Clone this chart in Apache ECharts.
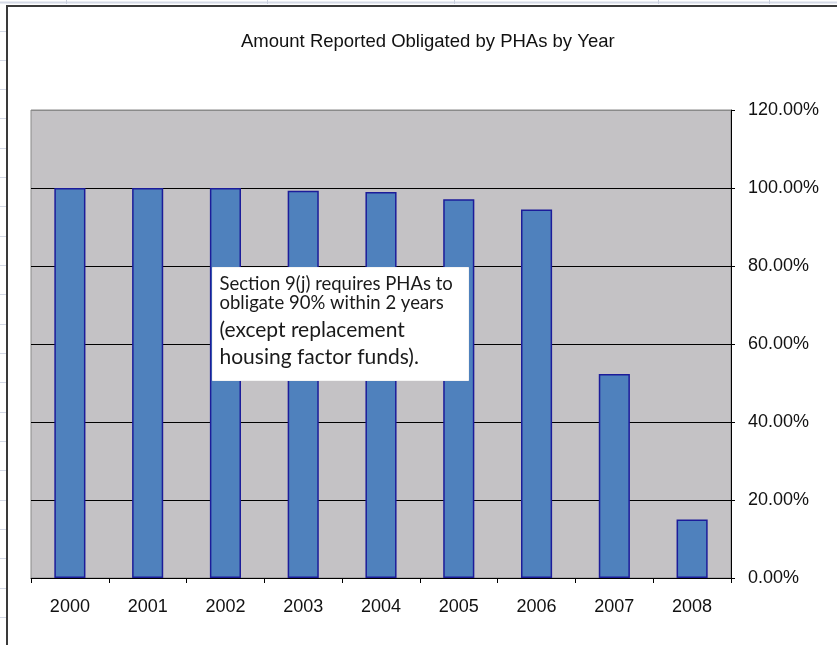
<!DOCTYPE html>
<html>
<head>
<meta charset="utf-8">
<script src="https://cdn.jsdelivr.net/npm/echarts@6/dist/echarts.min.js"></script>
<style>
  html, body { margin: 0; padding: 0; background: #ffffff; }
  #chart { width: 837px; height: 645px; }
</style>
</head>
<body>
<div id="chart"></div>
<script>
// Obligation rate by grant year
const years = ['2000', '2001', '2002', '2003', '2004', '2005', '2006', '2007', '2008'];
const obligated = [1.0, 1.0, 1.0, 0.993, 0.99, 0.971, 0.945, 0.523, 0.15];
const yTicks = { min: 0, max: 1.2, interval: 0.2 };
const noteLines = [
  'Section 9(j) requires PHAs to',
  'obligate 90% within 2 years',
  '(except replacement',
  'housing factor funds).'
];

const chart = echarts.init(document.getElementById('chart'), null, { renderer: 'canvas' });

// worksheet cell lines behind the chart frame
const sheetLines = [];
const rowColor = '#d4d9e6';
for (let y = 30.5; y < 645; y += 29.33) {
  sheetLines.push({ type: 'line', shape: { x1: 0, y1: Math.round(y) + 0.5, x2: 6, y2: Math.round(y) + 0.5 },
    style: { stroke: rowColor, lineWidth: 1 }, silent: true });
}
sheetLines.push({ type: 'line', shape: { x1: 0, y1: 2.5, x2: 837, y2: 2.5 }, style: { stroke: rowColor, lineWidth: 2 }, silent: true });
[66, 267, 454, 658, 769].forEach(function (x) {
  sheetLines.push({ type: 'line', shape: { x1: x + 0.5, y1: 0, x2: x + 0.5, y2: 4 }, style: { stroke: '#c8cedc', lineWidth: 1 }, silent: true });
});
// chart frame
sheetLines.push({ type: 'polyline', shape: { points: [[7, 645], [7, 6], [837, 6]] },
  style: { stroke: '#3a3a3a', lineWidth: 2, fill: null }, silent: true });

// annotation box drawn over the bars
const noteFont = ['18.5px Lato', '18.5px Lato', '21px Lato', '21px Lato'];
const noteY = [17, 36, 63, 90];
const note = {
  type: 'group', left: 212, top: 267,
  children: [
    { type: 'rect', z: 100, shape: { x: 0, y: 0, width: 256, height: 113 },
      style: { fill: '#ffffff', stroke: '#f4f4f4', lineWidth: 1 } }
  ].concat(noteLines.map(function (t, i) {
    return { type: 'text', z: 101, x: 7, y: noteY[i],
      style: { text: t, font: noteFont[i], fill: '#1a1a1a', textVerticalAlign: 'middle' } };
  }))
};

// grid lines: black for every tick, the top edge stays grey like the frame
const splitColors = ['#000000', '#000000', '#000000', '#000000', '#000000', '#000000', '#8a8a8a'];

const option = {
  backgroundColor: '#ffffff',
  animation: false,
  title: {
    text: 'Amount Reported Obligated by PHAs by Year',
    left: 236, top: 27,
    textStyle: { fontFamily: 'Liberation Sans', fontSize: 18.5, fontWeight: 'normal', color: '#111111' }
  },
  grid: {
    left: 31, right: 106, top: 110, bottom: 67,
    show: true, backgroundColor: '#c4c2c5', borderColor: '#8a8a8a', borderWidth: 1
  },
  xAxis: {
    type: 'category',
    data: years,
    boundaryGap: true,
    axisLine: { show: true, lineStyle: { color: '#000000', width: 1 } },
    axisTick: { show: true, inside: false, length: 5, lineStyle: { color: '#000000' } },
    axisLabel: { margin: 20, fontFamily: 'Liberation Sans', fontSize: 18, color: '#111111' }
  },
  yAxis: {
    type: 'value',
    position: 'right',
    min: yTicks.min, max: yTicks.max, interval: yTicks.interval,
    axisLine: { show: true, lineStyle: { color: '#000000', width: 1 } },
    axisTick: { show: true, inside: false, length: 4, lineStyle: { color: '#000000' } },
    axisLabel: {
      margin: 17, fontFamily: 'Liberation Sans', fontSize: 18, color: '#111111',
      formatter: function (v) { return (v * 100).toFixed(2) + '%'; }
    },
    splitLine: { show: true, lineStyle: { color: splitColors, width: 1 } }
  },
  series: [{
    type: 'bar',
    data: obligated,
    barWidth: '40%',
    itemStyle: { color: '#4f81bd', borderColor: '#1c1c9a', borderWidth: 1.5 }
  }],
  graphic: sheetLines.concat([note])
};

chart.setOption(option);
</script>
</body>
</html>
